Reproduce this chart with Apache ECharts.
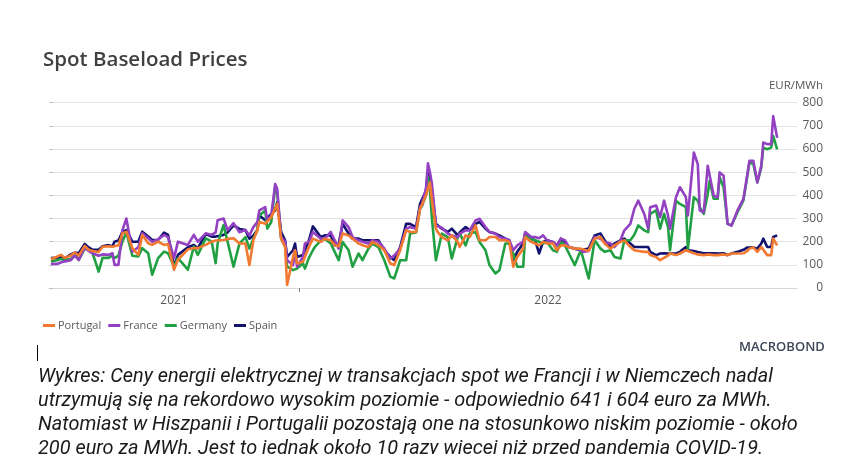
<!DOCTYPE html>
<html><head><meta charset="utf-8">
<script src="https://cdn.jsdelivr.net/npm/echarts@6/dist/echarts.min.js"></script>
<style>html,body{margin:0;padding:0;background:#fff}#c{width:862px;height:454px}</style>
</head><body><div id="c"></div>
<script>
// x values: days since 2021-08-28 (axis start); year boundary 2022-01-01 = day 126
const yearBoundary = 126;
const axisEnd = 377;
const yearLabels = ['2021', '2022'];
const yTicks = [0, 100, 200, 300, 400, 500, 600, 700, 800];
const unitLabel = 'EUR/MWh';

const days = [
1,4,6,8,11,13,15,18,20,22,
25,27,30,32,33,35,37,39,42,45,
47,50,52,55,58,60,63,65,70,73,
75,79,82,84,85,88,90,93,96,99,
101,103,105,106,109,110,112,114,115,117,
119,120,123,124,125,128,129,131,133,134,
137,139,142,144,146,148,151,153,156,158,
161,163,166,169,172,174,177,180,182,185,
187,188,190,191,192,193,195,196,198,201,
203,206,207,210,212,215,217,220,222,225,
227,230,232,234,236,239,240,243,245,247,
249,251,254,256,258,260,262,265,268,269,
272,273,275,278,280,283,285,288,290,293,
295,297,300,302,303,306,308,310,312,313,
316,318,321,322,325,327,328,330,332,333,
335,337,338,340,342,344,347,348,350,352,
353,355,357,359,360,362,364,365,367];

const portugal = [
124,135,143,130,140,153,140,182,165,160,
155,178,180,178,178,185,236,243,172,143,
229,193,186,200,186,190,79,122,167,172,
172,186,200,205,205,207,212,215,192,192,
99,206,250,285,277,285,306,342,363,213,
177,13,135,163,106,113,113,177,213,206,
199,213,206,185,180,235,227,213,192,185,
177,199,185,163,106,99,163,249,242,242,
342,350,399,430,456,378,256,240,220,206,
227,199,177,227,220,270,206,206,220,220,
206,206,199,92,134,170,220,199,192,184,
199,192,192,163,184,184,177,170,170,165,
160,163,213,220,192,170,184,199,206,177,
163,160,156,156,142,134,120,130,140,149,
142,149,163,155,150,145,142,142,145,142,
142,142,145,145,142,149,149,150,150,160,
170,175,156,177,170,142,142,213,184];

const france = [
104,104,110,115,120,140,121,175,160,150,
139,145,143,150,100,100,250,300,157,176,
236,215,200,210,229,220,129,200,186,229,
200,236,229,240,293,300,250,280,241,250,
227,263,285,335,349,292,313,449,428,220,
200,120,99,163,92,134,192,199,242,249,
213,213,242,206,170,292,263,220,206,200,
192,206,200,170,127,140,170,256,263,256,
349,360,430,538,500,449,270,277,260,235,
227,220,235,249,249,292,299,263,242,235,
220,213,206,163,184,200,242,220,220,215,
227,206,199,184,213,206,177,170,165,156,
160,165,220,213,199,192,177,206,249,277,
342,377,320,256,349,356,306,377,313,256,
392,435,392,313,585,535,335,327,528,528,
399,392,499,485,277,270,335,342,385,492,
549,549,456,528,628,621,621,742,649];

const germany = [
114,120,125,120,125,145,121,170,165,150,
71,130,130,140,129,140,200,240,139,136,
172,150,57,129,157,150,93,129,79,179,
143,214,200,107,193,272,200,92,192,220,
170,213,250,313,335,256,285,435,414,213,
180,92,77,80,84,106,84,130,163,177,
206,213,192,156,120,199,163,92,149,120,
170,192,177,120,49,41,120,120,235,240,
342,355,400,480,420,300,120,120,235,220,
127,220,235,184,235,242,199,163,99,63,
77,192,192,149,92,92,227,210,206,200,
192,199,163,156,199,184,150,99,163,134,
41,34,206,170,156,163,134,127,206,206,
230,270,249,241,320,335,256,320,263,163,
377,363,349,170,392,377,349,320,406,463,
385,385,478,435,277,270,327,335,378,485,
542,535,456,520,606,599,606,656,599];

const spain = [
129,130,135,128,145,153,150,190,175,165,
165,180,185,180,200,205,243,250,200,200,
243,222,207,207,239,229,93,143,176,186,
172,233,222,222,215,229,240,270,255,250,
213,227,250,313,292,300,320,335,370,242,
206,134,163,192,134,142,163,206,266,263,
220,227,227,185,190,277,235,213,213,206,
206,206,206,163,134,120,177,277,277,263,
363,370,420,506,480,420,277,277,256,242,
256,227,240,263,249,277,285,256,242,235,
227,213,206,120,156,192,235,213,206,149,
199,206,199,184,213,199,177,170,163,163,
170,170,227,235,206,177,192,206,213,192,
177,177,177,177,156,142,149,150,149,156,
149,156,177,163,160,155,149,150,150,149,
150,149,150,150,142,149,156,160,165,175,
180,175,170,192,213,177,177,220,227];

const seriesNames = ['Portugal', 'France', 'Germany', 'Spain'];
const seriesValues = [portugal, france, germany, spain];
const colors = ['#F27930', '#9340C2', '#21A043', '#12126F'];

const chart = echarts.init(document.getElementById('c'), null, {renderer: 'canvas'});

const series = [];
for (let k = seriesNames.length - 1; k >= 0; k--) {
  series.push({
    name: seriesNames[k],
    type: 'line',
    data: days.map((d, i) => [d, seriesValues[k][i]]),
    showSymbol: false,
    symbol: 'none',
    lineStyle: {width: 2.6, color: colors[k], join: 'round'},
    itemStyle: {color: colors[k]},
    z: 2 + (seriesNames.length - k)
  });
}

const caption = [
  'Wykres: Ceny energii elektrycznej w transakcjach spot we Francji i w Niemczech nadal',
  'utrzymują się na rekordowo wysokim poziomie - odpowiednio 641 i 604 euro za MWh.',
  'Natomiast w Hiszpanii i Portugalii pozostają one na stosunkowo niskim poziomie - około',
  '200 euro za MWh. Jest to jednak około 10 razy więcej niż przed pandemią COVID-19.'
];

chart.setOption({
  animation: false,
  backgroundColor: '#ffffff',
  title: {
    text: 'Spot Baseload Prices',
    left: 43, top: 50, padding: 0,
    textStyle: {fontFamily: 'Open Sans', fontWeight: 600, fontSize: 20.5, color: '#404040'}
  },
  legend: {
    data: seriesNames,
    left: 43, top: 320, padding: 0,
    icon: 'rect', itemWidth: 12, itemHeight: 3, itemGap: 7,
    textStyle: {fontFamily: 'Open Sans', fontSize: 11, color: '#595959', padding: [0, 0, 0, -2]}
  },
  grid: {left: 49, right: 65, top: 102.7, bottom: 166, containLabel: false},
  xAxis: {
    type: 'value', min: 0, max: axisEnd,
    axisLine: {show: true, lineStyle: {color: '#d9d9d9', width: 1}},
    axisTick: {show: true, customValues: [yearBoundary], length: 4, lineStyle: {color: '#808080'}},
    axisLabel: {
      show: true, customValues: [yearBoundary / 2, (yearBoundary + axisEnd) / 2],
      formatter: v => (v < yearBoundary ? yearLabels[0] : yearLabels[1]),
      fontFamily: 'Open Sans', fontSize: 12, color: '#595959', margin: 7
    },
    splitLine: {show: false}
  },
  yAxis: {
    type: 'value', position: 'right', min: yTicks[0], max: yTicks[yTicks.length - 1], interval: 100,
    axisLine: {show: false},
    axisTick: {show: true, length: 4, lineStyle: {color: '#bfbfbf'}},
    axisLabel: {fontFamily: 'Open Sans', fontSize: 12, color: '#595959', align: 'right', margin: 26},
    splitLine: {show: true, lineStyle: {color: '#e2e2e2', width: 1}}
  },
  series: series,
  graphic: [
    {type: 'text', x: 823, y: 86,
     style: {text: unitLabel, fontFamily: 'Open Sans', fontSize: 11.5, fill: '#595959', align: 'right', verticalAlign: 'middle'}},
    {type: 'text', left: 739, top: 341,
     style: {text: 'MACROBOND', fontFamily: 'Open Sans', fontWeight: 600, fontSize: 13, fill: '#3d4656'}},
    {type: 'line', shape: {x1: 37.5, y1: 345, x2: 37.5, y2: 361}, style: {stroke: '#000', lineWidth: 1}},
    ...caption.map((t, i) => ({
      type: 'text', left: 38, top: 367 + i * 24,
      style: {text: t, fontFamily: 'Roboto', fontStyle: 'italic', fontSize: 19.9, fill: '#1a1a1a'}
    }))
  ]
});
</script></body></html>
